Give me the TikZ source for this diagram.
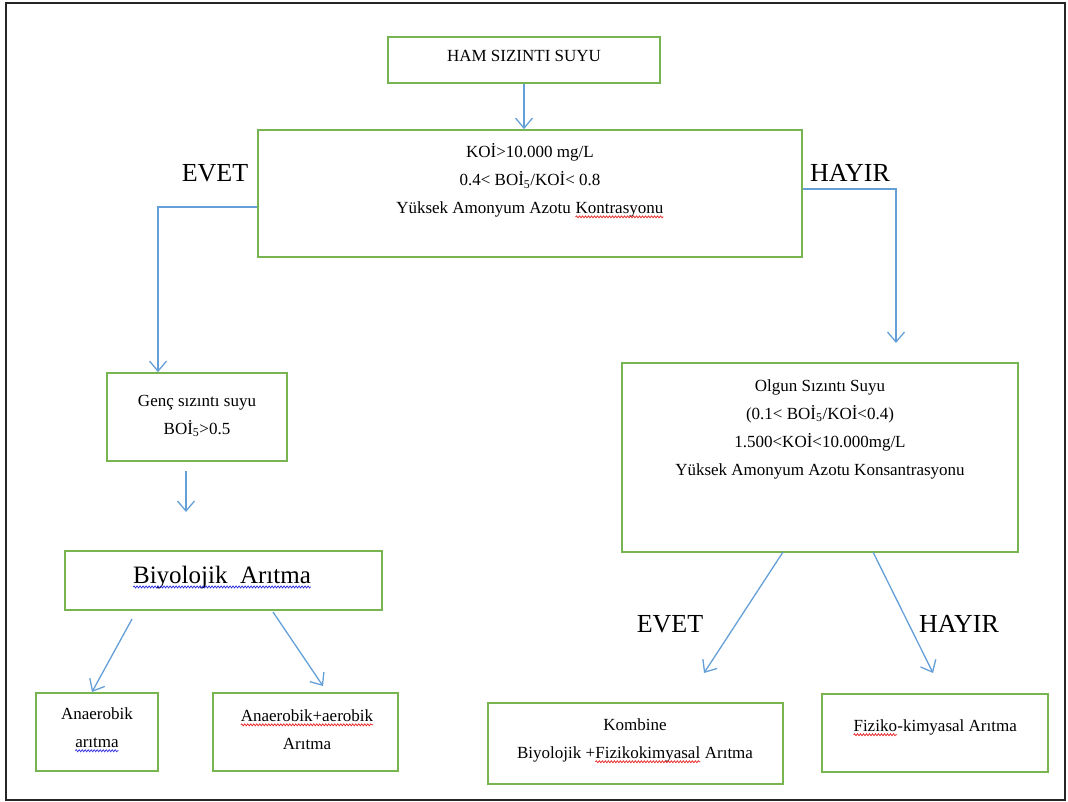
\documentclass[tikz,border=0pt]{standalone}
\usepackage{fontspec}
\setmainfont{Liberation Serif}
\usetikzlibrary{arrows.meta,calc,decorations.pathmorphing}
\definecolor{boxgreen}{RGB}{120,180,80}
\definecolor{arrblue}{RGB}{100,160,215}
\definecolor{sqred}{RGB}{230,30,30}
\definecolor{sqblue}{RGB}{40,40,220}
\newcommand\sqline[2]{\tikz[baseline=(sqw.base)]{\node[inner sep=0pt,outer sep=0pt] (sqw) {#2};\draw[#1,line width=0.7pt,decorate,decoration={snake,amplitude=1pt,segment length=3pt}] ([yshift=-3pt]sqw.base west) -- ([yshift=-3pt]sqw.base east);}}
\begin{document}
\begin{tikzpicture}[x=1pt,y=-1pt,
  box/.style={draw=boxgreen,line width=1.8pt,rectangle,inner sep=0pt},
  txt/.style={align=center,font=\fontsize{17pt}{28pt}\selectfont,inner sep=0pt},
  big/.style={font=\fontsize{25pt}{30pt}\selectfont,inner sep=0pt},
  lbl/.style={font=\fontsize{26pt}{30pt}\selectfont,inner sep=0pt},
  arr/.style={draw=arrblue,line width=1.3pt,-{Straight Barb[length=10pt,width=17pt,line width=1.3pt]}}]
\useasboundingbox (0,0) rectangle (1068,802);
\draw[line width=2.5pt,black!85] (6,3) rectangle (1065,800);

% boxes
\node[box,minimum width=272pt,minimum height=46pt] (ham) at (524,60) {};
\node[box,minimum width=544pt,minimum height=127pt] (main) at (530,193.5) {};
\node[box,minimum width=180pt,minimum height=88pt] (genc) at (197,417) {};
\node[box,minimum width=317pt,minimum height=59pt] (bio) at (223.5,580.5) {};
\node[box,minimum width=122pt,minimum height=78pt] (anae) at (97,732) {};
\node[box,minimum width=185pt,minimum height=78pt] (anaer) at (305.5,732) {};
\node[box,minimum width=396pt,minimum height=189pt] (olgun) at (820,457.5) {};
\node[box,minimum width=295pt,minimum height=81pt] (komb) at (635.5,743.5) {};
\node[box,minimum width=226pt,minimum height=78pt] (fiz) at (935,733) {};

% texts
\node[txt] (hamt) at (524,56) {HAM SIZINTI SUYU};
\node[txt] (maint) at (530,181) {KOİ>10.000 mg/L\\0.4< BOİ\textsubscript{5}/KOİ< 0.8\\Yüksek Amonyum Azotu \sqline{sqred}{Kontrasyonu}};
\node[txt] (genct) at (197,416) {Genç sızıntı suyu\\BOİ\textsubscript{5}>0.5};
\node[big] (biot) at (222,578) {\sqline{sqblue}{Biyolojik~~Arıtma}};
\node[txt] (anaet) at (97,730) {Anaerobik\\\sqline{sqblue}{arıtma}};
\node[txt] (anaert) at (307,730) {\sqline{sqred}{Anaerobik+aerobik}\\Arıtma};
\node[txt] (olgunt) at (820,429) {Olgun Sızıntı Suyu\\(0.1< BOİ\textsubscript{5}/KOİ<0.4)\\1.500<KOİ<10.000mg/L\\Yüksek Amonyum Azotu Konsantrasyonu};
\node[txt] (kombt) at (635,741) {Kombine\\Biyolojik +\sqline{sqred}{Fizikokimyasal} Arıtma};
\node[txt] (fizt) at (935,728) {\sqline{sqred}{Fiziko}-kimyasal Arıtma};

% labels
\node[lbl] (evet1) at (215,173) {EVET};
\node[lbl] (hayir1) at (850,173) {HAYIR};
\node[lbl] (evet2) at (670,624) {EVET};
\node[lbl] (hayir2) at (959,624) {HAYIR};

% connector points
\coordinate (e1) at (158,207);
\coordinate (h1) at (896,189);
\coordinate (h2) at (896,343);
\coordinate (g1) at (186,471);
\coordinate (g2) at (186,512);
\coordinate (b1) at (132,619);
\coordinate (b2) at (92,692);
\coordinate (b3) at (273,612);
\coordinate (b4) at (323,686);
\coordinate (o1) at (783,552);
\coordinate (o2) at (704,673);
\coordinate (o3) at (873,552);
\coordinate (o4) at (933,673);

% connectors
\draw[arr] (ham.south) -- (ham.south |- main.north);
\draw[arr] (main.west |- e1) -- (e1) -- (e1 |- genc.north);
\draw[arr] (main.east |- h1) -- (h1) -- (h2);
\draw[arr] (g1) -- (g2);
\draw[arr] (b1) -- (b2);
\draw[arr] (b3) -- (b4);
\draw[arr] (o1) -- (o2);
\draw[arr] (o3) -- (o4);
\end{tikzpicture}
\end{document}
